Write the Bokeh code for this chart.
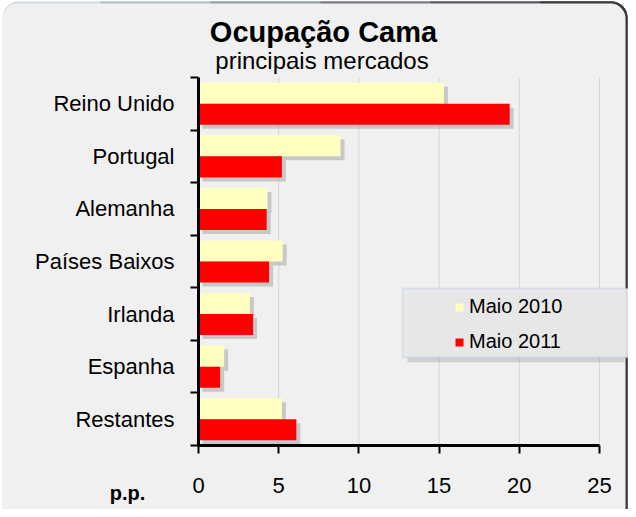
from bokeh.plotting import figure
from bokeh.models import (Range1d, FixedTicker, Label, Legend, LegendItem,
                          BoxAnnotation)
from bokeh.embed import file_html
from bokeh.resources import INLINE

categories = ["Reino Unido", "Portugal", "Alemanha", "Países Baixos",
              "Irlanda", "Espanha", "Restantes"]
maio2010 = [15.3, 8.85, 4.3, 5.25, 3.2, 1.6, 5.2]
maio2011 = [19.4, 5.2, 4.25, 4.4, 3.4, 1.35, 6.1]
series_names = ["Maio 2010", "Maio 2011"]
x_ticks = [0, 5, 10, 15, 20, 25]

FONT = "Liberation Sans"
n = len(categories)
centers = [n - i - 0.5 for i in range(n)]
y2010 = [c + 0.2 for c in centers]
y2011 = [c - 0.2 for c in centers]

W, H = 628, 509
# layout: value 0 at px 198, 25 at px 599; category 0 at px 445 (from top), 7 at px 77
xpx = (599 - 198) / 25.0
ypx = (445 - 77) / float(n)
x_start = -198 / xpx
x_end = (W - 198) / xpx
y_start = -(H - 445) / ypx
y_end = 445 / ypx

p = figure(width=W, height=H, output_backend="svg", toolbar_location=None,
           x_range=Range1d(x_start, x_end), y_range=Range1d(y_start, y_end),
           min_border=0, min_border_left=0, min_border_right=0,
           min_border_top=0, min_border_bottom=0)
p.border_fill_color = "white"
p.background_fill_color = "white"
p.outline_line_color = None
p.grid.visible = False

# chart-area panel with rounded corners; top edge goes from light to dark
p.add_layout(BoxAnnotation(left=2, right=626, top=508, bottom=-30,
                           left_units="screen", right_units="screen",
                           top_units="screen", bottom_units="screen",
                           border_radius=16, fill_color="#d3dae6", fill_alpha=1,
                           line_color=None, level="underlay"))
edge_cols = ["#b4bccb", "#959caa", "#767b86", "#575b63", "#3a3a3a"]
for i, c in enumerate(edge_cols):
    p.add_layout(BoxAnnotation(left=100 + 110 * i, right=627, top=508, bottom=-30,
                               left_units="screen", right_units="screen",
                               top_units="screen", bottom_units="screen",
                               border_radius=(0, 16, 0, 0), fill_color=c,
                               fill_alpha=1, line_color=None, level="underlay"))
p.add_layout(BoxAnnotation(left=2, right=625, top=506, bottom=-30,
                           left_units="screen", right_units="screen",
                           top_units="screen", bottom_units="screen",
                           border_radius=15, fill_color="#f0f0f0", fill_alpha=1,
                           line_color=None, level="underlay"))

# grid lines (bounded to the plot area)
p.segment(x0=x_ticks, y0=0, x1=x_ticks, y1=n, line_color="#d6d6d6", line_width=1)

# shadows
sx = 4 / xpx
sy = 4 / ypx
p.hbar(y=[v - sy for v in y2010], left=sx, right=[v + sx for v in maio2010],
       height=0.4, fill_color="#8c8c8c", fill_alpha=0.4, line_color=None)
p.hbar(y=[v - sy for v in y2011], left=sx, right=[v + sx for v in maio2011],
       height=0.4, fill_color="#8c8c8c", fill_alpha=0.4, line_color=None)

r1 = p.hbar(y=y2010, left=0, right=maio2010, height=0.4,
            fill_color="#ffffc0", line_color=None)
r2 = p.hbar(y=y2011, left=0, right=maio2011, height=0.4,
            fill_color="#ff0000", line_color=None)

# x axis
p.xaxis.fixed_location = 0
p.xaxis.bounds = (0, 25)
p.xaxis.ticker = FixedTicker(ticks=x_ticks)
p.xaxis.axis_line_width = 3
p.xaxis.axis_line_color = "black"
p.xaxis.major_tick_in = 0
p.xaxis.major_tick_out = 8
p.xaxis.major_tick_line_width = 2
p.xaxis.major_tick_line_color = "black"
p.xaxis.minor_tick_line_color = None
p.xaxis.major_label_text_font = FONT
p.xaxis.major_label_text_font_size = "22px"
p.xaxis.major_label_text_color = "black"
p.xaxis.major_label_standoff = 24

# y axis
p.yaxis.fixed_location = 0
p.yaxis.bounds = (0, n)
p.yaxis.ticker = FixedTicker(ticks=centers, minor_ticks=list(range(n + 1)))
p.yaxis.major_label_overrides = {c: categories[i] for i, c in enumerate(centers)}
p.yaxis.axis_line_width = 3
p.yaxis.axis_line_color = "black"
p.yaxis.major_tick_in = 0
p.yaxis.major_tick_out = 0
p.yaxis.minor_tick_in = 0
p.yaxis.minor_tick_out = 8
p.yaxis.minor_tick_line_width = 2
p.yaxis.minor_tick_line_color = "black"
p.yaxis.major_label_text_font = FONT
p.yaxis.major_label_text_font_size = "22px"
p.yaxis.major_label_text_color = "black"
p.yaxis.major_label_standoff = 16

# titles
p.add_layout(Label(x=323, y=478, x_units="screen", y_units="screen",
                   text="Ocupação Cama", text_font=FONT, text_font_style="bold",
                   text_font_size="29px", text_align="center",
                   text_baseline="alphabetic", text_color="black"))
p.add_layout(Label(x=321.5, y=449, x_units="screen", y_units="screen",
                   text="principais mercados", text_font=FONT,
                   text_font_size="24px", text_align="center",
                   text_baseline="alphabetic", text_color="black"))
p.add_layout(Label(x=127, y=17, x_units="screen", y_units="screen",
                   text="p.p.", text_font=FONT, text_font_style="bold",
                   text_font_size="20px", text_align="center",
                   text_baseline="alphabetic", text_color="black"))

# legend box
p.add_layout(BoxAnnotation(left=407, right=624, top=217, bottom=147,
                           left_units="screen", right_units="screen",
                           top_units="screen", bottom_units="screen",
                           fill_color="#8c8c8c", fill_alpha=0.3, line_color=None))
p.add_layout(BoxAnnotation(left=402, right=640, top=221, bottom=152,
                           left_units="screen", right_units="screen",
                           top_units="screen", bottom_units="screen",
                           fill_color="#e8e8e8", fill_alpha=0.92,
                           line_color="#a9c1e6", line_width=2))

legend = Legend(items=[LegendItem(label=series_names[0], renderers=[r1]),
                       LegendItem(label=series_names[1], renderers=[r2])],
                location=(454, 156), padding=0, margin=0, spacing=12,
                glyph_width=10, glyph_height=10, label_height=20,
                label_standoff=5, label_text_font=FONT,
                label_text_font_size="20px", label_text_color="black",
                background_fill_alpha=0, border_line_color=None)
p.add_layout(legend)

open("out.html", "w").write(file_html(p, INLINE))
